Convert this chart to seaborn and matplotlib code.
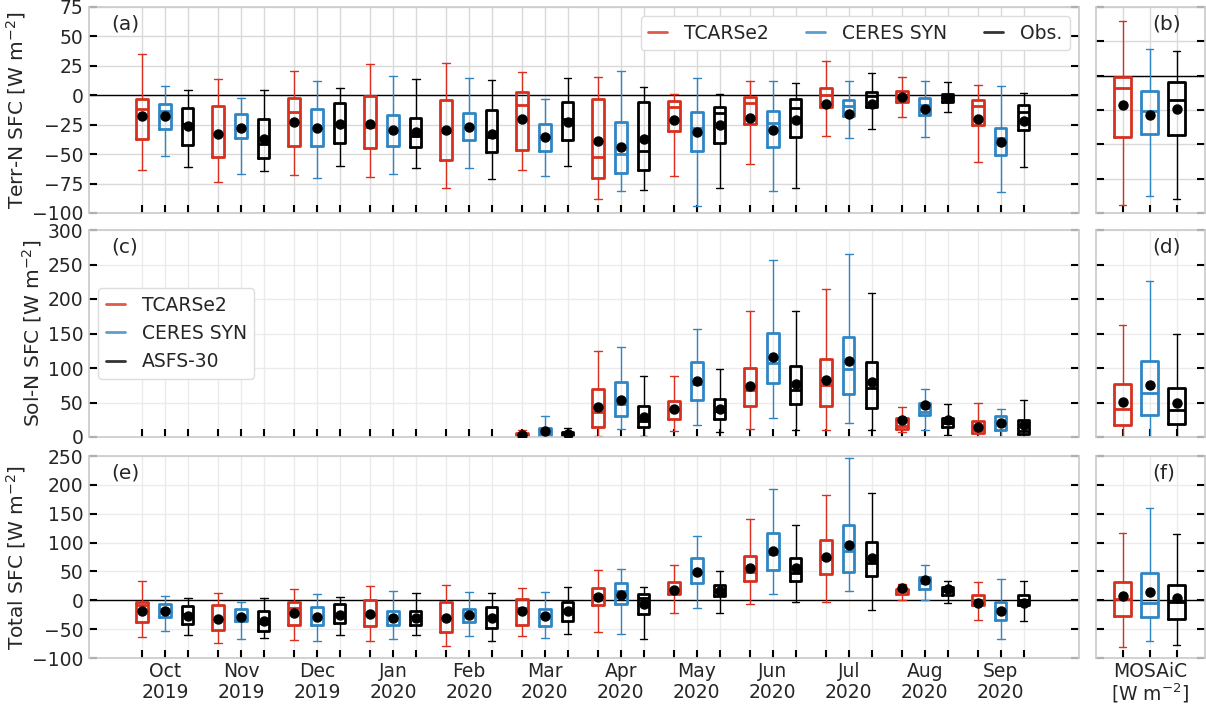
import matplotlib
matplotlib.use("Agg")
import matplotlib.pyplot as plt
import seaborn as sns
from matplotlib.lines import Line2D

months = ["Oct", "Nov", "Dec", "Jan", "Feb", "Mar", "Apr", "May", "Jun", "Jul", "Aug", "Sep"]
years = ["2019", "2019", "2019"] + ["2020"] * 9
colors = ["#d7301f", "#2f86c4", "black"]

# each box: (whislo, q1, median, q3, whishi, mean), one per month Oct..Sep
terr_tcars = [(-63.6, -37, -11.6, -3.1, 34.7, -17.2), (-73.9, -52.2, -32.5, -9.3, 14.1, -32.5),
              (-67.9, -43.2, -13.8, -2.3, 20.3, -22.3), (-69.6, -44.9, -26.8, -0.8, 26.2, -24),
              (-79, -55, -31.3, -3.7, 27.7, -29.6), (-63.6, -46.6, -8.5, 2.5, 19.5, -19.8),
              (-88.3, -70.5, -52.8, -3.1, 15.8, -39.2), (-68.5, -30.5, -9.6, -4.5, 1.4, -21.2),
              (-58.5, -24.8, -6.8, -1.4, 11.9, -18.9), (-34.7, -9.9, 0.6, 5.9, 29.4, -7.6),
              (-18.6, -5.9, 0, 4, 15.8, -1.7), (-56.8, -25.4, -9.3, -3.7, 9, -20.3)]
terr_ceres = [(-51.7, -29, -13, -7.3, 8.2, -17.8), (-67, -36.7, -27.7, -15.8, -2, -28.2),
              (-70.5, -42.9, -27.7, -11.6, 11.9, -28.2), (-67, -42.9, -30.2, -16.9, 16.7, -29.6),
              (-62, -38.1, -26.2, -15, 15, -26.8), (-68.5, -47.2, -35.5, -24.8, -2.8, -35.6),
              (-81.5, -66.2, -50.3, -22.6, 20.3, -44.3), (-94, -47.2, -27.9, -14.1, 15, -31.6),
              (-81.5, -44.3, -23.4, -13.3, 11.9, -29.6), (-36.4, -17.5, -9, -4, 12.4, -15.5),
              (-35.6, -16.9, -8.2, -2.3, 11.9, -11.3), (-82.4, -51.1, -36.4, -27.4, 8.2, -40)]
terr_obs = [(-61, -42.3, -24, -10.7, 4.2, -26.2), (-64.5, -53.4, -41.8, -20, 4.2, -37.3),
            (-60.2, -40.4, -24.6, -6.5, 6.5, -24.6), (-62, -43.7, -34.4, -19.2, 13.8, -31.3),
            (-71.3, -48.3, -35.3, -12.7, 13, -32.5), (-60.2, -38.1, -20.3, -5.6, 15, -23.1),
            (-80.7, -63.4, -47.2, -5.4, 7.3, -37.5), (-79, -40.3, -15.2, -9.9, 1.4, -25.4),
            (-79, -35.3, -10.7, -3.1, 10.7, -21.2), (-28.8, -9.9, -0.6, 2.8, 18.6, -7.6),
            (-13.8, -5.9, -1.7, 0.8, 11, -2.3), (-61, -29.6, -13.8, -8.2, 2.3, -22)]

sol_tcars = [None] * 5 + [(0, 0, 2.4, 5.8, 10, 3.4), (1.9, 14.5, 36.3, 69.7, 125, 44),
             (8.2, 26.6, 41, 52.2, 89, 40.2), (12, 44.5, 68.7, 100, 182, 74.5),
             (10.6, 44.5, 75.5, 113, 215, 83.2), (6.8, 12.1, 16, 28, 44, 24.2),
             (0, 5.3, 9.7, 23.7, 48.9, 15)]
sol_ceres = [None] * 5 + [(0, 0, 4.8, 13.4, 30.7, 8.2), (12, 30, 48.4, 79.8, 131, 54.2),
             (17.9, 53.2, 77.4, 108.9, 157, 81.8), (28, 77.9, 107.4, 151, 256, 116),
             (19.8, 62.4, 98.7, 145, 265, 110.8), (10.6, 32.4, 35.8, 49.8, 70, 46.9),
             (0, 10.6, 21.8, 31, 41.1, 20.8)]
sol_obs = [None] * 5 + [(0, 0, 3.8, 7.2, 13.4, 4.8), (1.9, 14.5, 22.7, 45, 89, 29.5),
           (6.8, 25.6, 37.7, 54.7, 99, 41.1), (10.6, 47.4, 68.2, 103, 182, 77.4),
           (10.6, 41.6, 71.1, 108.9, 208.5, 80.3), (3.4, 14, 20.3, 28, 47.4, 24.2),
           (0, 4.8, 8.7, 24.7, 54.2, 16.9)]

tot_tcars = [(-62.9, -38, -8.1, -2.9, 34, -18.5), (-73.2, -51.9, -31.7, -8.7, 12.7, -31.7),
             (-68, -43.3, -13.3, -2.9, 19.6, -21.3), (-69.8, -45, -25.4, 0, 25.4, -23),
             (-78.4, -54.8, -30.6, -2.9, 26.5, -30.6), (-61.1, -42.7, -13.3, 2.9, 21.9, -17.9),
             (-54.3, -8.7, 9.8, 21.4, 53.1, 5.2), (-21.4, 10.4, 20.2, 31.8, 61.2, 18.5),
             (-5.8, 32.9, 49.7, 76.8, 141.5, 56.6), (-2.3, 45, 71, 104.5, 183, 75.6),
             (0, 11.5, 16, 19, 28.3, 21.9), (-33.5, -8.7, 0, 9.2, 32.3, -4)]
tot_ceres = [(-52.5, -28.8, -15.6, -6.3, 8.1, -17.9), (-66.3, -35.8, -27, -15.6, -2.9, -28.3),
             (-69.8, -42.7, -27, -11.5, 11, -28.3), (-66.3, -42.7, -30.6, -17.9, 16.1, -30.6),
             (-61.1, -37.5, -25.4, -15, 14.4, -26), (-64.6, -44.4, -27, -15.6, 14.4, -27.7),
             (-57.7, -6.4, 16.2, 29.4, 54.8, 9.8), (-12.7, 29.4, 49.7, 73.3, 112, 49.7),
             (11.5, 52, 79.7, 116.6, 193.4, 86), (16.7, 48.5, 85.4, 130.5, 247, 95.3),
             (0, 19, 29.4, 40.4, 61.8, 35.8), (-66.4, -34.6, -14.4, -2.3, 37.5, -19)]
tot_obs = [(-60.6, -41.5, -24.2, -9.8, 4, -26.5), (-64.6, -53.6, -39.2, -19, 4, -36.3),
           (-59.4, -39.2, -24.8, -6.3, 6.3, -24.8), (-60.6, -42.7, -28.3, -19, 12.7, -31.1),
           (-70.9, -48.4, -29.4, -12.1, 12.7, -31.1), (-57.7, -35.8, -17.3, -2.3, 23.6, -19),
           (-66.4, -24.2, 4, 10.4, 23.7, -5.8), (-22.5, 6.9, 15.6, 26.6, 51.4, 15.6),
           (-2.3, 32.9, 47.9, 73.3, 131, 55.4), (-16.2, 42, 64, 100.5, 186.5, 72.7),
           (-5.2, 9.8, 16.2, 23.1, 33.5, 19.6), (-35.2, -8.1, 0, 9.2, 34, -5.2)]

# whole MOSAiC year, order: TCARSe2, CERES SYN, Obs.
mosaic_terr = [(-94.2, -44.3, -9.3, -1, 39.9, -21.4), (-87.6, -42.4, -26, -11.4, 19.5, -28.5),
               (-89.8, -43.1, -17.8, -4.9, 18, -24.6)]
mosaic_sol = [(0, 17, 40.6, 77, 163, 51.3), (0, 31.4, 63.9, 110.3, 225.4, 76),
              (0, 18.9, 39.2, 71.1, 150, 49.8)]
mosaic_tot = [(-80.3, -27.1, 1.7, 31.2, 116.6, 7.5), (-71, -28.9, -4, 46.8, 160.5, 13.9),
              (-76.8, -32.9, -2.3, 26.6, 115.5, 3.5)]


def draw_boxes(ax, rows, pos, color, width, capw):
    stats, p = [], []
    for x, r in zip(pos, rows):
        if r is None:
            continue
        stats.append(dict(whislo=r[0], q1=r[1], med=r[2], q3=r[3], whishi=r[4], mean=r[5]))
        p.append(x)
    ax.bxp(stats, positions=p, widths=width, capwidths=capw, showmeans=True, showfliers=False,
           manage_ticks=False,
           boxprops=dict(color=color, lw=2), medianprops=dict(color=color, lw=2),
           whiskerprops=dict(color=color, lw=1), capprops=dict(color=color, lw=1),
           meanprops=dict(marker="o", markerfacecolor="black", markeredgecolor="black",
                          markersize=6.5, zorder=5))


sns.set_theme(style="whitegrid")
plt.rcParams["font.family"] = ["DejaVu Sans"]
plt.rcParams["font.size"] = 13

fig = plt.figure(figsize=(12.06, 7.04), dpi=100)
W, H = 1206, 704
rows_px = [(7, 213), (230, 437), (456, 658)]

main_sets = [(terr_tcars, terr_ceres, terr_obs), (sol_tcars, sol_ceres, sol_obs),
             (tot_tcars, tot_ceres, tot_obs)]
side_sets = [mosaic_terr, mosaic_sol, mosaic_tot]
ylims = [(-100, 75), (0, 300), (-100, 250)]
side_ylims = [(-100, 50), (0, 300), (-100, 250)]
ysteps = [25, 50, 50]
ylabels = ["Terr-N SFC [W m$^{-2}$]", "Sol-N SFC [W m$^{-2}$]", "Total SFC [W m$^{-2}$]"]
tags = [("(a)", "(b)"), ("(c)", "(d)"), ("(e)", "(f)")]
gridcols = ["#d9d9d9", "#ebebeb", "#ebebeb"]

offsets = [-0.3, 0.0, 0.3]
centers = list(range(1, 13))

for r, (top, bot) in enumerate(rows_px):
    y0 = 1 - bot / H
    h = (bot - top) / H
    ax = fig.add_axes([89 / W, y0, (1079 - 89) / W, h])
    axr = fig.add_axes([1096 / W, y0, (1205 - 1096) / W, h])

    for k in range(3):
        pos = [c + offsets[k] for c in centers]
        draw_boxes(ax, main_sets[r][k], pos, colors[k], 0.15, 0.1)
        draw_boxes(axr, [side_sets[r][k]], [k - 1], colors[k], 0.63, 0.26)

    allpos = [c + o for c in centers for o in offsets]
    ax.set_xticks(allpos)
    ax.set_xlim(0, 13.03)
    axr.set_xticks([-1, 0, 1])
    axr.set_xlim(-2, 2.04)
    if r == 2:
        labs = []
        for m, y in zip(months, years):
            labs += ["", m + "\n" + y, ""]
        ax.set_xticklabels(labs, linespacing=1.15)
        axr.set_xticklabels(["", "MOSAiC\n[W m$^{-2}$]", ""], linespacing=1.0)
    else:
        ax.set_xticklabels([])
        axr.set_xticklabels([])

    lo, hi = ylims[r]
    ax.set_ylim(lo, hi)
    ax.set_yticks(range(lo, hi + 1, ysteps[r]))
    slo, shi = side_ylims[r]
    axr.set_ylim(slo, shi)
    axr.set_yticks(range(slo, shi + 1, ysteps[r]))
    axr.set_yticklabels([])
    ax.set_ylabel(ylabels[r], fontsize=14.5, labelpad=3)

    for a in (ax, axr):
        a.grid(True, color=gridcols[r], lw=1)
        a.tick_params(axis="both", direction="in", length=6, width=1.5, color="black",
                      left=True, right=True, bottom=True, labelsize=13.5)
        a.tick_params(axis="y", pad=4)
        a.tick_params(axis="x", pad=3)
        for s in a.spines.values():
            s.set_color("#cccccc")
        if lo < 0:
            a.axhline(0, color="black", lw=1, zorder=1)

    ax.text(0.022, 0.965, tags[r][0], transform=ax.transAxes, va="top", ha="left", fontsize=14.5)
    axr.text(0.52, 0.965, tags[r][1], transform=axr.transAxes, va="top", ha="left", fontsize=14.5)

    if r == 0:
        handles = [Line2D([], [], color=c, lw=2, alpha=0.8) for c in colors]
        ax.legend(handles, ["TCARSe2", "CERES SYN", "Obs."], loc="upper right", ncol=3,
                  fontsize=13.5, handlelength=1.0, columnspacing=2.0, handletextpad=0.9,
                  framealpha=1, edgecolor="#dddddd")
    if r == 1:
        handles = [Line2D([], [], color=c, lw=2, alpha=0.8) for c in colors]
        ax.legend(handles, ["TCARSe2", "CERES SYN", "ASFS-30"], loc="center left",
                  bbox_to_anchor=(0.0, 0.5), fontsize=13.5, handlelength=1.0,
                  handletextpad=0.9, framealpha=1, edgecolor="#dddddd")

fig.savefig("out.png", dpi=100)
